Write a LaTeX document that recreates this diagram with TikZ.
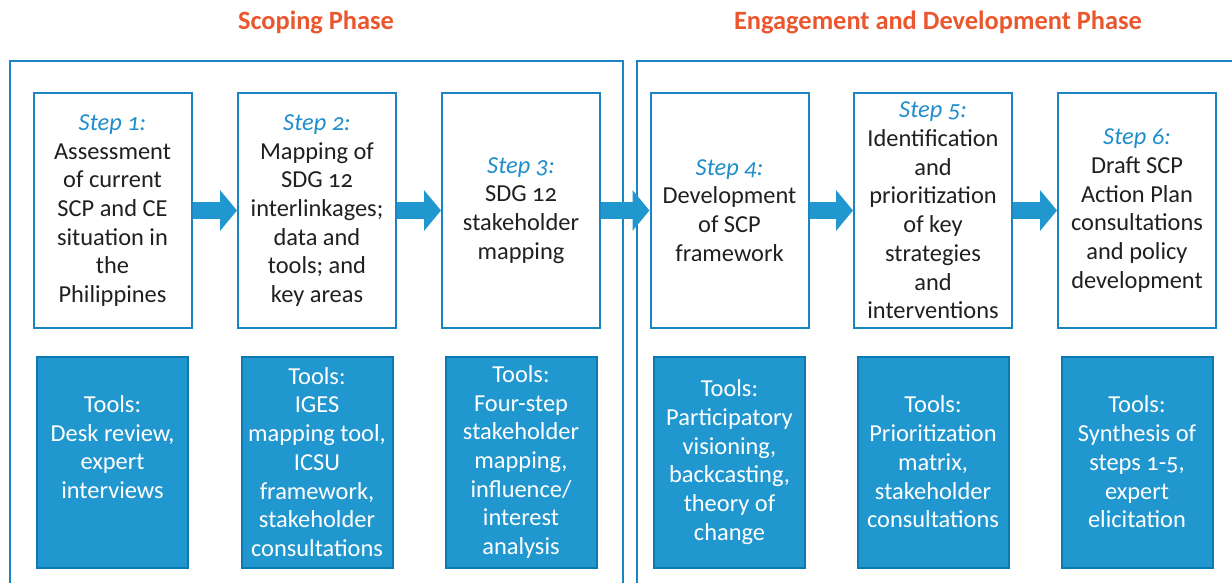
\documentclass[tikz,border=0pt]{standalone}
\usepackage{fontspec}
\setmainfont{Carlito}[Numbers=OldStyle]
\usetikzlibrary{arrows.meta}
\definecolor{frameblue}{HTML}{1B85C4}
\definecolor{stepblue}{HTML}{1F8ECB}
\definecolor{toolfill}{HTML}{2197CF}
\definecolor{tooledge}{HTML}{0C78B4}
\definecolor{phaseorange}{HTML}{E9572F}
\definecolor{textgrey}{HTML}{231F20}
\newcommand{\steplabel}[1]{{\color{stepblue}\itshape Step #1:}}

\begin{document}
\begin{tikzpicture}[x=0.5pt, y=-0.5pt,
    every node/.style={align=center, font=\fontsize{12.2}{14.35}\selectfont},
    stepbox/.style={draw=frameblue, line width=1pt, fill=white, text=textgrey,
      minimum width=79pt, minimum height=117pt, inner sep=0pt},
    toolbox/.style={draw=tooledge, line width=1pt, fill=toolfill, text=white,
      minimum width=75.5pt, minimum height=105.5pt, inner sep=0pt},
    phase/.style={text=phaseorange, font=\fontsize{13.2}{16}\selectfont\bfseries},
    blockarrow/.style={draw=toolfill, line width=8.3pt, -{Triangle[length=8.5pt, width=20pt]}}]
  \clip (0,0) rectangle (1232,583);

  % the two phases
  \draw[frameblue, line width=1pt] (10,61) rectangle (623,640) (637,61) rectangle (1260,640);
  \node[phase] (p1) at (316,22) {Scoping Phase};
  \node[phase] (p2) at (938,22) {Engagement and Development Phase};

  % steps
  \node[stepbox] (s1) at (112.5,210.5) {\steplabel{1}\\Assessment\\of current\\SCP and CE\\situation in\\the\\Philippines};
  \node[stepbox] (s2) at (317,210.5) {\steplabel{2}\\Mapping of\\SDG 12\\interlinkages;\\data and\\tools; and\\key areas};
  \node[stepbox] (s3) at (521,210.5) {\steplabel{3}\\SDG 12\\stakeholder\\mapping};
  \node[stepbox] (s4) at (729.5,210.5) {\steplabel{4}\\Development\\of SCP\\framework};
  \node[stepbox] (s5) at (933,210.5) {\steplabel{5}\\Identification\\and\\prioritization\\of key\\strategies\\and\\interventions};
  \node[stepbox] (s6) at (1137,210.5) {\steplabel{6}\\Draft SCP\\Action Plan\\consultations\\and policy\\development};

  % tools
  \node[toolbox, text depth=15pt] (t1) at (112.5,462) {Tools:\\Desk review,\\expert\\interviews};
  \node[toolbox] (t2) at (317,462) {Tools:\\IGES\\mapping tool,\\ICSU\\framework,\\stakeholder\\consultations};
  \node[toolbox] (t3) at (521,462) {Tools:\\Four-step\\stakeholder\\mapping,\\influence/\\interest\\analysis};
  \node[toolbox] (t4) at (729.5,462) {Tools:\\Participatory\\visioning,\\backcasting,\\theory of\\change};
  \node[toolbox] (t5) at (933,462) {Tools:\\Prioritization\\matrix,\\stakeholder\\consultations};
  \node[toolbox] (t6) at (1137,462) {Tools:\\Synthesis of\\steps 1-5,\\expert\\elicitation};

  \draw[blockarrow] (s1) -- (s2);
  \draw[blockarrow] (s2) -- (s3);
  \draw[blockarrow] (s3) -- (s4);
  \draw[blockarrow] (s4) -- (s5);
  \draw[blockarrow] (s5) -- (s6);
\end{tikzpicture}
\end{document}
